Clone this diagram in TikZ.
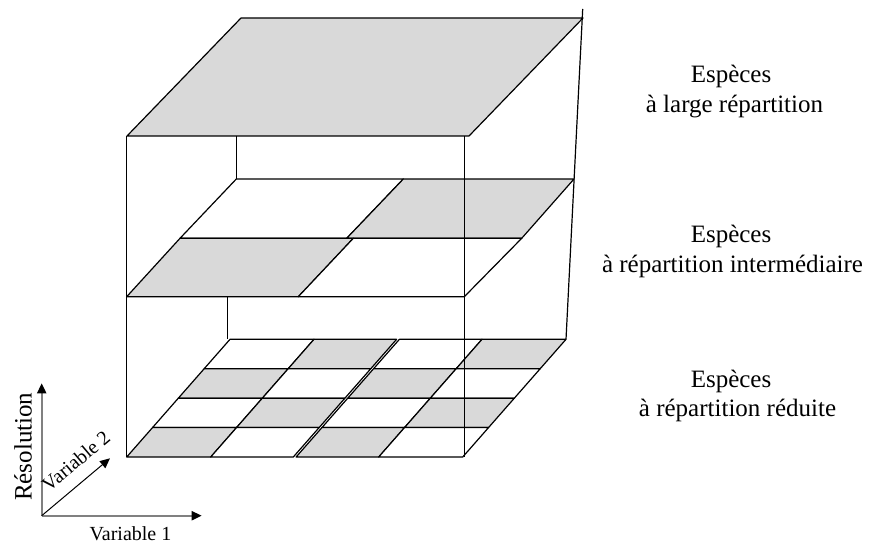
\documentclass[tikz,border=0pt]{standalone}
\usepackage{fontspec}
\setmainfont{Liberation Serif}
\usetikzlibrary{arrows.meta}

\tikzset{
  edge/.style={line width=0.6pt, line join=round, draw=black},
  shaded/.style={edge, fill=black!15},
  blank/.style={edge, fill=white},
  label text/.style={font=\fontsize{12.5}{15}\selectfont, inner sep=0pt},
  var text/.style={font=\fontsize{10}{12}\selectfont, inner sep=0pt},
  axis/.style={line width=1pt, draw=black!50,
    -{Triangle[length=5pt, width=4.5pt, color=black]}},
  diag axis/.style={line width=0.5pt, draw=black,
    -{Triangle[length=5pt, width=4.5pt, color=black]}},
}

\begin{document}
\begin{tikzpicture}[x=0.5pt, y=-0.5pt]
\useasboundingbox (0,0) rectangle (870,545);

% ---------- top layer: one large cell ----------
\coordinate (TA) at (241,18);
\coordinate (TB) at (583,18);
\coordinate (TC) at (469,136);
\coordinate (TD) at (127,136);
\draw[shaded] (TA) -- (TB) -- (TC) -- (TD) -- cycle;

% back-left edge of the upper box
\coordinate (UB1) at (236.3,136);
\coordinate (UB2) at (236.3,179);
\draw[edge] (UB1) -- (UB2);

% ---------- middle layer: 2 x 2 cells ----------
\coordinate (M00) at (236.3,179);
\coordinate (M01) at (403.3,179);
\coordinate (M02) at (574,179);
\coordinate (M10) at (180,238.3);
\coordinate (M11) at (346.7,238.3);
\coordinate (M12) at (521.7,238.3);
\coordinate (N11) at (353.3,238.3);
\coordinate (M20) at (126.7,296.7);
\coordinate (M21) at (298.3,296.7);
\coordinate (M22) at (464.3,296.7);
\draw[blank]  (M00) -- (M01) -- (M11) -- (M10) -- cycle;
\draw[shaded] (M01) -- (M02) -- (M12) -- (M11) -- cycle;
\draw[shaded] (M10) -- (N11) -- (M21) -- (M20) -- cycle;
\draw[blank]  (N11) -- (M12) -- (M22) -- (M21) -- cycle;

% back-left edge of the lower box
\coordinate (LB1) at (227.3,296.7);
\coordinate (LB2) at (227.3,339.3);
\draw[edge] (LB1) -- (LB2);

% ---------- bottom layer: 4 x 4 checkerboard, drawn as two halves ----------
\foreach \i in {0,1,2,3}{
  \foreach \j in {0,1,2,3}{
    \pgfmathsetmacro{\ua}{\i/4 + (\i==2 ? 0.0042 : 0)}
    \pgfmathsetmacro{\ub}{(\i+1)/4 - (\i==1 ? 0.0042 : 0)}
    \pgfmathsetmacro{\va}{\j/4}
    \pgfmathsetmacro{\vb}{(\j+1)/4}
    \pgfmathtruncatemacro{\odd}{mod(\i+\j,2)}
    \coordinate (g1) at ({230+336*\ua-103.3*\va},{339.3+117.7*\va});
    \coordinate (g2) at ({230+336*\ub-103.3*\va},{339.3+117.7*\va});
    \coordinate (g3) at ({230+336*\ub-103.3*\vb},{339.3+117.7*\vb});
    \coordinate (g4) at ({230+336*\ua-103.3*\vb},{339.3+117.7*\vb});
    \ifnum\odd=1
      \draw[shaded] (g1) -- (g2) -- (g3) -- (g4) -- cycle;
    \else
      \draw[blank] (g1) -- (g2) -- (g3) -- (g4) -- cycle;
    \fi
  }
}

% ---------- front and back verticals of the stack ----------
\coordinate (FL1) at (126.7,136);
\coordinate (FL2) at (126.7,457);
\coordinate (FR1) at (464.3,136);
\coordinate (FR2) at (464.3,457);
\coordinate (BR1) at (582.7,9);
\coordinate (BR2) at (566,339.3);
\draw[edge] (FL1) -- (FL2);
\draw[edge] (FR1) -- (FR2);
\draw[edge] (BR1) -- (BR2);

% ---------- layer labels ----------
\node[label text, anchor=base] (top1) at (731,82.3) {Espèces};
\node[label text, anchor=base] (top2) at (734.5,112.3) {à large répartition};
\node[label text, anchor=base] (mid1) at (731,242.3) {Espèces};
\node[label text, anchor=base] (mid2) at (732.5,272.3) {à répartition intermédiaire};
\node[label text, anchor=base] (low1) at (731,387.3) {Espèces};
\node[label text, anchor=base] (low2) at (737.5,416.7) {à répartition réduite};

% ---------- axes ----------
\coordinate (O) at (41.7,515.7);
\coordinate (Ytip) at (41.7,383.3);
\coordinate (Xtip) at (201.7,515.7);
\coordinate (Ztip) at (110,458.3);
\draw[axis] (O) -- (Ytip);
\draw[axis] (O) -- (Xtip);
\draw[diag axis] (O) -- (Ztip);

\node[label text, rotate=90, anchor=base] (res) at (31.5,446.7) {Résolution};
\node[var text, rotate=40, anchor=base] (var2) at (80.2,466.1) {Variable 2};
\node[var text, anchor=base] (var1) at (130.5,540) {Variable 1};
\end{tikzpicture}
\end{document}
